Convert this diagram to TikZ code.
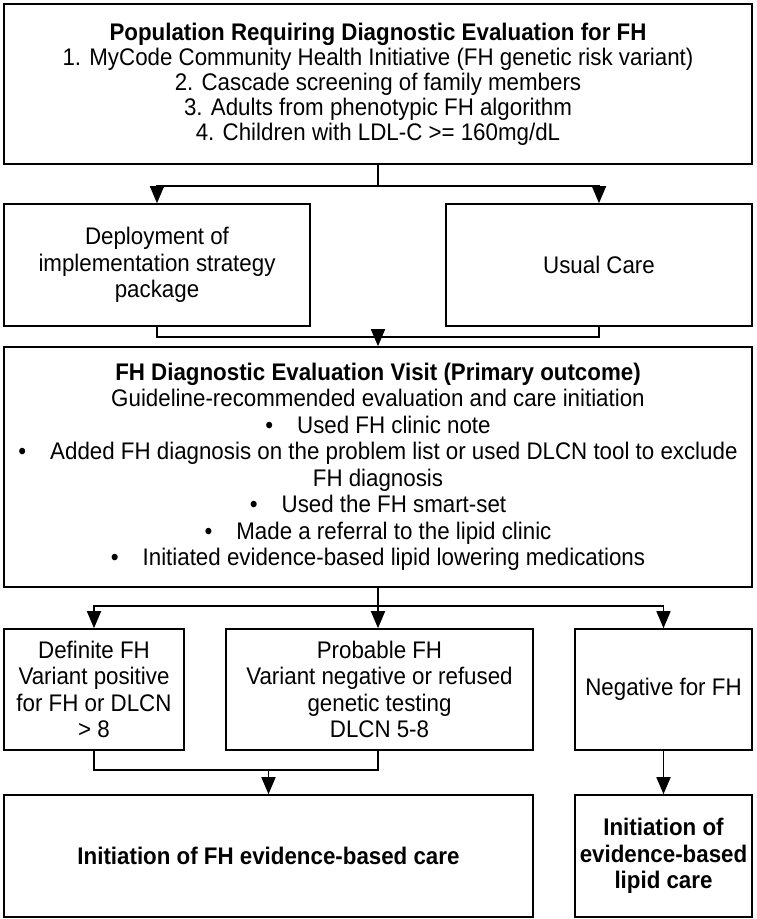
\documentclass[tikz,border=0pt]{standalone}
\usepackage{fontspec}
\setmainfont{Liberation Sans}[FakeStretch=0.93]
\usetikzlibrary{arrows.meta,calc}

\newcommand{\bulletitem}{\textbullet\hspace{24pt}}

\tikzset{
  box/.style={draw, line width=1.6pt, align=center, inner sep=0pt},
  conn/.style={line width=1.6pt},
  arr/.style={line width=1.6pt, -{Triangle[width=14pt,length=17pt]}}
}

\begin{document}
\begin{tikzpicture}[x=1pt, y=-1pt, font=\fontsize{24}{26.5}\selectfont]
			%%%%% START %%%%%
			\useasboundingbox (0, 0) rectangle (756, 919);
			
			\node[box, minimum width=748pt, minimum height=160pt, font=\fontsize{24}{25}\selectfont] (pop) at (378, 84) {\textbf{Population Requiring Diagnostic Evaluation for FH}\\
				1. MyCode Community Health Initiative (FH genetic risk variant)\\
				2. Cascade screening of family members\\
				3. Adults from phenotypic FH algorithm\\
				4. Children with LDL-C >= 160mg/dL};
			
			\node[box, minimum width=306pt, minimum height=122pt] (deploy) at (157, 265) {Deployment of\\ implementation strategy\\ package};
			\node[box, minimum width=306pt, minimum height=122pt] (usual) at (599, 265) {Usual Care};
			
			\node[box, minimum width=748pt, minimum height=240pt] (visit) at (378, 467) {\textbf{FH Diagnostic Evaluation Visit (Primary outcome)}\\
				Guideline-recommended evaluation and care initiation\\
				\bulletitem Used FH clinic note\\
				\bulletitem Added FH diagnosis on the problem list or used DLCN tool to exclude\\
				FH diagnosis\\
				\bulletitem Used the FH smart-set\\
				\bulletitem Made a referral to the lipid clinic\\
				\bulletitem Initiated evidence-based lipid lowering medications};
			
			\node[box, minimum width=180pt, minimum height=121pt] (definite) at (94, 689.5) {Definite FH\\ Variant positive\\ for FH or DLCN\\ > 8};
			\node[box, minimum width=307pt, minimum height=121pt] (probable) at (379.5, 689.5) {Probable FH\\ Variant negative or refused\\ genetic testing\\ DLCN 5-8};
			\node[box, minimum width=177pt, minimum height=121pt] (negative) at (663.5, 689.5) {Negative for FH};
			
			\node[box, minimum width=529pt, minimum height=122pt] (initfh) at (268.5, 856) {\textbf{Initiation of FH evidence-based care}};
			\node[box, minimum width=177pt, minimum height=122pt] (initlipid) at (663.5, 856) {\textbf{Initiation of}\\ \textbf{evidence-based}\\ \textbf{lipid care}};
			
			% population to the two arms
			\draw[conn] (pop.south) -- ++(0, 21) coordinate (split);
			\draw[arr] (split) -| (deploy.north);
			\draw[arr] (split) -| (usual.north);
			
			% arms to the visit
			\coordinate (merge) at (visit.north |- 0, 337);
			\draw[conn] (deploy.south) |- (merge) -| (usual.south);
			\draw[arr] (merge) -- (visit.north);
			
			% visit to the three outcomes
			\draw[conn] (visit.south) -- ++(0, 18) coordinate (branch);
			\draw[arr] (branch) -| (definite.north);
			\draw[arr] (branch) -- (branch |- probable.north);
			\draw[arr] (branch) -| (negative.north);
			
			% outcomes to care
			\coordinate (join) at (initfh.north |- 0, 770);
			\draw[conn] (definite.south) |- (join);
			\draw[conn] (join) -| (branch |- probable.south);
			\draw[arr] (join) -- (initfh.north);
			\draw[arr] (negative.south) -- (initlipid.north);
			
			%%%%% END %%%%%
\end{tikzpicture}
\end{document}
